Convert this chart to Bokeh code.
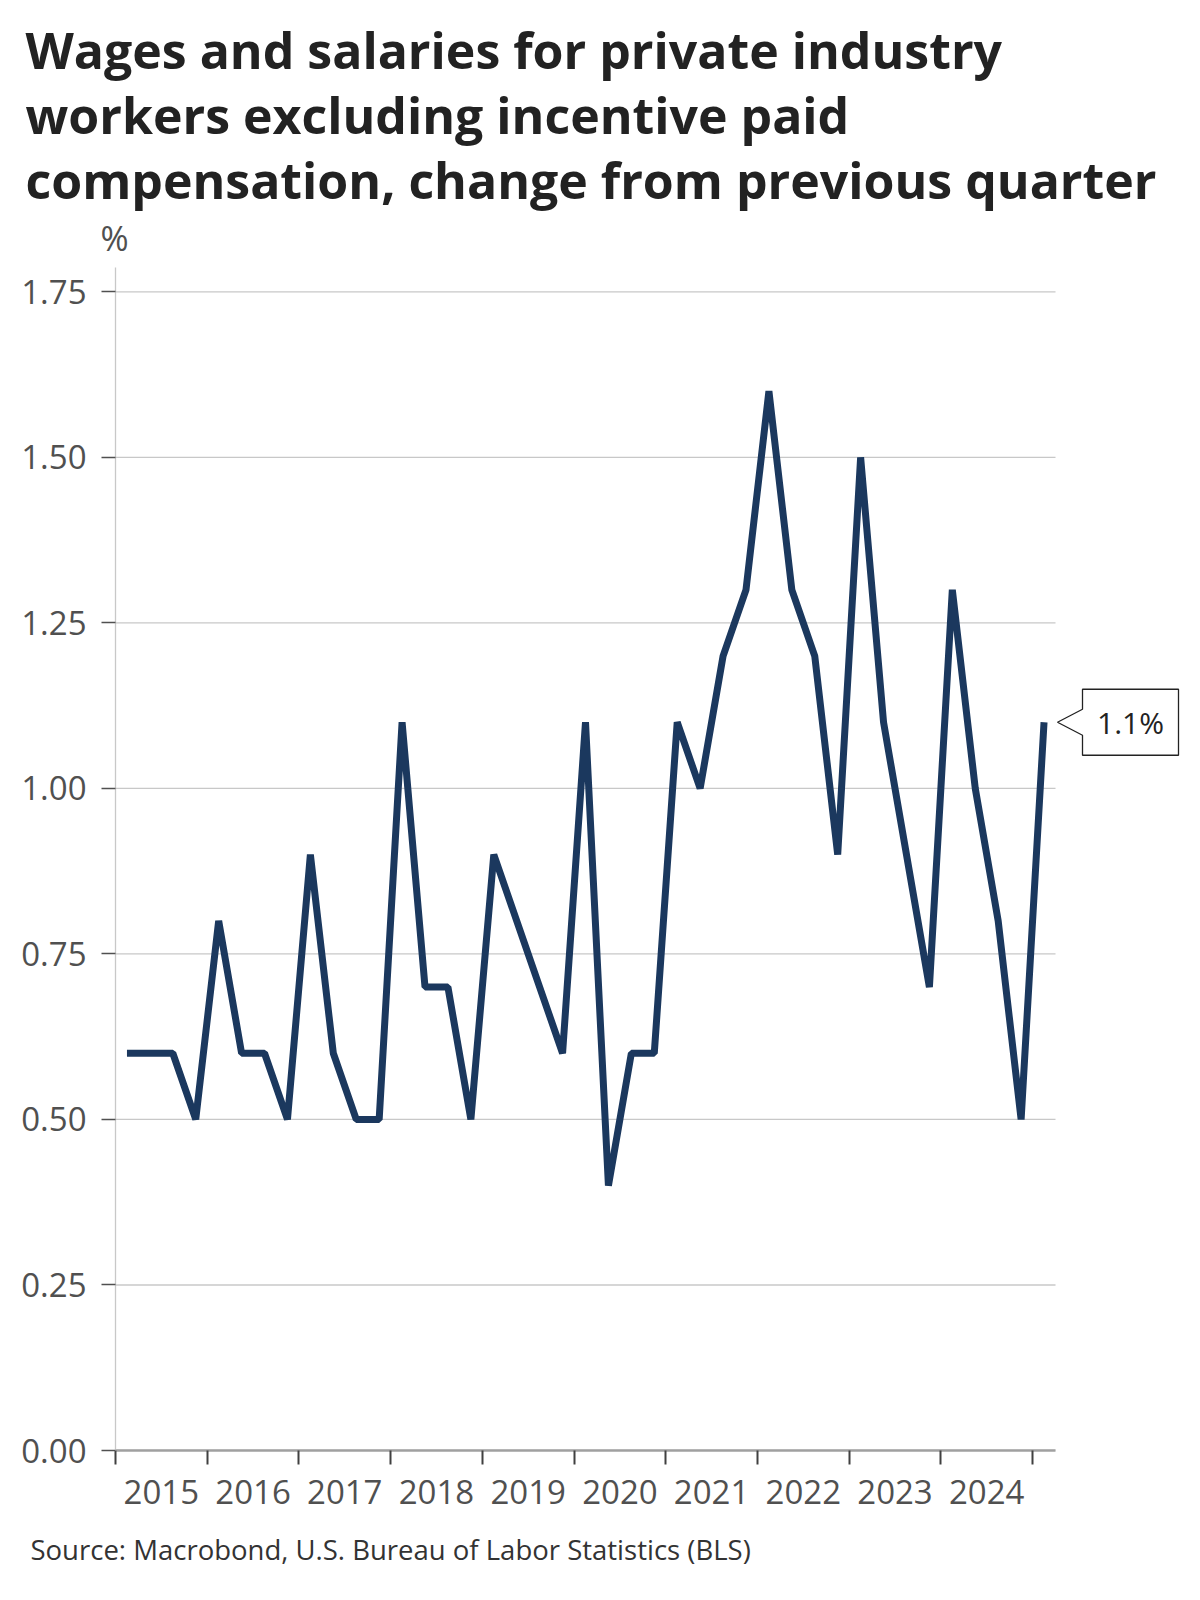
from bokeh.plotting import figure
from bokeh.models import (Range1d, FixedTicker, CustomJSTickFormatter, Label,
                          PolyAnnotation, ColumnDataSource, Title)
from bokeh.embed import file_html
from bokeh.resources import INLINE

# ---------------- data ----------------
quarters = [f"{y}Q{q}" for y in range(2015, 2025) for q in range(1, 5)] + ["2025Q1"]
wage_change = [0.6, 0.6, 0.6, 0.5,
               0.8, 0.6, 0.6, 0.5,
               0.9, 0.6, 0.5, 0.5,
               1.1, 0.7, 0.7, 0.5,
               0.9, 0.8, 0.7, 0.6,
               1.1, 0.4, 0.6, 0.6,
               1.1, 1.0, 1.2, 1.3,
               1.6, 1.3, 1.2, 0.9,
               1.5, 1.1, 0.9, 0.7,
               1.3, 1.0, 0.8, 0.5,
               1.1]
year_labels = [str(y) for y in range(2015, 2025)]
year_bounds = list(range(2015, 2026))
y_ticks = [0.0, 0.25, 0.5, 0.75, 1.0, 1.25, 1.5, 1.75]
last_label = "1.1%"

title_lines = ["Wages and salaries for private industry",
               "workers excluding incentive paid",
               "compensation, change from previous quarter"]
unit_text = "%"
source_text = "Source: Macrobond, U.S. Bureau of Labor Statistics (BLS)"

# x position: middle of each quarter, in years
xq = [int(q[:4]) + (int(q[-1]) - 0.5) / 4 for q in quarters]
src = ColumnDataSource(dict(x=xq, y=wage_change))

# ---------------- layout ----------------
W, H = 1200, 1600
FL, FT, FH = 115, 267, 1183
AX0, AX1 = 2015.0, 2025.25          # extent of the drawn x axis
PX_PER_X = 940 / (AX1 - AX0)
FW = W - FL - 5
X1 = AX0 + FW / PX_PER_X            # frame extends right to hold the callout
Y0 = 0.0
Y1 = 1.75 * FH / (1449.3 - 290.7)
PX_PER_Y = FH / (Y1 - Y0)

p = figure(frame_width=FW, frame_height=FH,
           min_border_left=FL, min_border_right=W - FL - FW,
           min_border_top=FT, min_border_bottom=H - FT - FH,
           x_range=Range1d(AX0, X1), y_range=Range1d(Y0, Y1),
           toolbar_location=None, output_backend="svg",
           background_fill_color="white", border_fill_color="white")
p.outline_line_color = None

FONT = "Open Sans"
LABEL_COLOR = "#505050"

# x axis
xa = p.xaxis[0]
xa.bounds = (AX0, AX1)
xa.ticker = FixedTicker(ticks=[int(y) + 0.5 for y in year_labels], minor_ticks=year_bounds)
xa.formatter = CustomJSTickFormatter(args=dict(labels=year_labels, first=int(year_labels[0])),
                                     code="const i = Math.round(tick - 0.5) - first; return labels[i] || '';")
xa.axis_line_color = "#a0a0a0"
xa.axis_line_width = 2.5
xa.major_tick_line_color = None
xa.major_tick_out = 0
xa.major_tick_in = 0
xa.minor_tick_line_color = "#404040"
xa.minor_tick_line_width = 2
xa.minor_tick_out = 14
xa.minor_tick_in = 0
xa.major_label_text_font = FONT
xa.major_label_text_font_size = "33px"
xa.major_label_text_color = LABEL_COLOR
xa.major_label_standoff = 15

# y axis
ya = p.yaxis[0]
ya.ticker = FixedTicker(ticks=y_ticks)
ya.formatter = CustomJSTickFormatter(code="return tick.toFixed(2);")
ya.axis_line_color = "#c8c8c8"
ya.axis_line_width = 1.3
ya.major_tick_line_color = "#505050"
ya.major_tick_line_width = 1.5
ya.major_tick_out = 14
ya.major_tick_in = 0
ya.minor_tick_line_color = None
ya.major_label_text_font = FONT
ya.major_label_text_font_size = "33px"
ya.major_label_text_color = LABEL_COLOR
ya.major_label_standoff = 15

# horizontal grid lines limited to the axis extent
p.grid.visible = False
p.segment(x0=[AX0] * len(y_ticks), x1=[AX1] * len(y_ticks), y0=y_ticks, y1=y_ticks,
          line_color="#c8c8c8", line_width=1.3)

# data line
p.line("x", "y", source=src, line_color="#1b385e", line_width=7)

# unit label and title (first added sits closest to the frame)
p.add_layout(Title(text=unit_text, align="left", offset=-15, standoff=13,
                   text_font=FONT, text_font_size="34px", text_font_style="normal",
                   text_color=LABEL_COLOR), "above")
title_standoffs = [-15, 5, -15]     # for lines 1, 2, 3
for txt, so in reversed(list(zip(title_lines, title_standoffs))):
    p.add_layout(Title(text=txt, align="left", offset=-90, standoff=so,
                       text_font=FONT, text_font_style="bold", text_font_size="50px",
                       text_color="#222222"), "above")

# source
p.add_layout(Title(text=source_text, align="left", offset=-85, standoff=44,
                   text_font=FONT, text_font_size="27.5px", text_font_style="normal",
                   text_color="#333333"), "below")

# callout for last value
ly = wage_change[-1]
tip_x = AX1 + 2 / PX_PER_X
box_l = tip_x + 25 / PX_PER_X
box_r = box_l + 96 / PX_PER_X
box_t = ly + 33 / PX_PER_Y
box_b = ly - 33 / PX_PER_Y
notch = 13 / PX_PER_Y
p.add_layout(PolyAnnotation(
    xs=[box_l, box_r, box_r, box_l, box_l, tip_x, box_l],
    ys=[box_t, box_t, box_b, box_b, ly - notch, ly, ly + notch],
    fill_color="white", fill_alpha=1.0, line_color="#222222", line_alpha=1.0,
    line_width=1.3))
p.add_layout(Label(x=(box_l + box_r) / 2, y=ly, text=last_label, text_font=FONT,
                   text_font_size="30px", text_color="#222222",
                   text_align="center", text_baseline="middle"))

open("out.html", "w").write(file_html(p, INLINE))
